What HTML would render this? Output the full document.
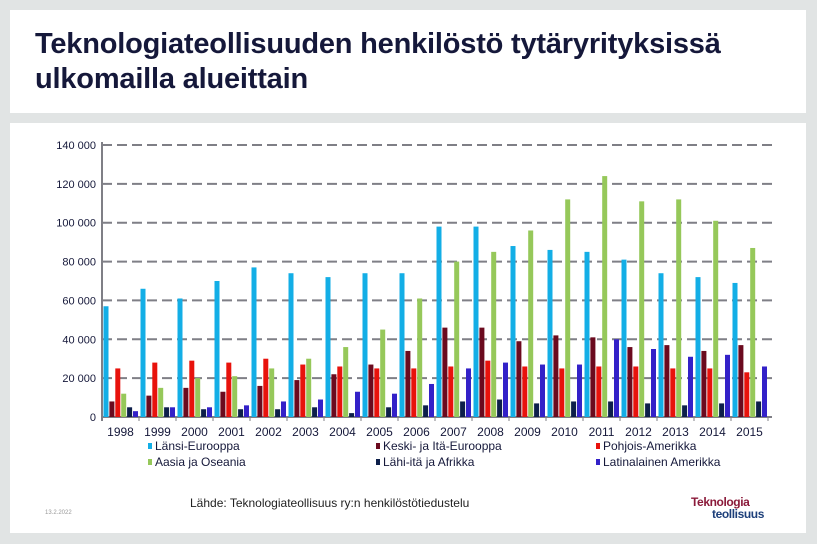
<!DOCTYPE html>
<html><head><meta charset="utf-8"><style>
body{margin:0;width:817px;height:544px;background:#e1e4e4;font-family:"Liberation Sans",sans-serif;overflow:hidden;position:relative}
.panel{position:absolute;background:#fff}
</style></head><body>
<div class="panel" style="left:10px;top:10px;width:796px;height:103px">
<div style="position:absolute;left:25px;top:17px;font-size:29px;font-weight:bold;letter-spacing:-0.2px;line-height:35px;color:#15183a">Teknologiateollisuuden henkilöstö tytäryrityksissä<br>ulkomailla alueittain</div>
</div>
<div class="panel" style="left:10px;top:123px;width:796px;height:410px"></div>
<svg id="chart" width="817" height="544" style="position:absolute;left:0;top:0"></svg>
<script>
const years=["1998","1999","2000","2001","2002","2003","2004","2005","2006","2007","2008","2009","2010","2011","2012","2013","2014","2015"];
const seriesNames=["Länsi-Eurooppa","Keski- ja Itä-Eurooppa","Pohjois-Amerikka","Aasia ja Oseania","Lähi-itä ja Afrikka","Latinalainen Amerikka"];
const lansi=[57000,66000,61000,70000,77000,74000,72000,74000,74000,98000,98000,88000,86000,85000,81000,74000,72000,69000];
const keski=[8000,11000,15000,13000,16000,19000,22000,27000,34000,46000,46000,39000,42000,41000,36000,37000,34000,37000];
const pohjois=[25000,28000,29000,28000,30000,27000,26000,25000,25000,26000,29000,26000,25000,26000,26000,25000,25000,23000];
const aasia=[12000,15000,20000,21000,25000,30000,36000,45000,61000,80000,85000,96000,112000,124000,111000,112000,101000,87000];
const lahi=[5000,5000,4000,4000,4000,5000,2000,5000,6000,8000,9000,7000,8000,8000,7000,6000,7000,8000];
const latin=[3000,5000,5000,6000,8000,9000,13000,12000,17000,25000,28000,27000,27000,40000,35000,31000,32000,26000];
const yTicks=[0,20000,40000,60000,80000,100000,120000,140000];
const colors=["#13aee6","#6b0a1e","#e8120c","#96c85a","#0d1f4a","#3321c8"];
const NS="http://www.w3.org/2000/svg";
const svg=document.getElementById('chart');
const X0=102,X1=768,Y0=417,Y1=145,YMAX=140000;
const gw=(X1-X0)/years.length;
const y=v=>Y0-(v/YMAX)*(Y0-Y1);
const xg=i=>X0+i*gw;
function mk(t,a){const e=document.createElementNS(NS,t);for(const k in a)e.setAttribute(k,a[k]);svg.appendChild(e);return e;}
yTicks.forEach((t,i)=>{
  if(i>0){const l=mk('line',{x1:X0,x2:772,y1:y(t),y2:y(t),stroke:'#7f7f86','stroke-width':2,'stroke-dasharray':'10,5'});
  
  }
  const tx=mk('text',{x:96,y:y(t)+4,'text-anchor':'end','font-size':11,fill:'#15183a'});
  tx.textContent=t===0?'0':(t/1000)+' 000';
  
  
});
const ax=mk('line',{x1:X0,x2:X0,y1:Y1-3,y2:Y0+4,stroke:'#7f7f86','stroke-width':2});


const xa=mk('line',{x1:X0,x2:772,y1:Y0,y2:Y0,stroke:'#7f7f86','stroke-width':2});


const series=[lansi,keski,pohjois,aasia,lahi,latin];
years.forEach((yr,i)=>{
  const tk=mk('line',{x1:xg(i+1),x2:xg(i+1),y1:Y0,y2:Y0+4,stroke:'#7f7f86','stroke-width':1});
  
  
  series.forEach((s,j)=>{
    const r=mk('rect',{x:xg(i)+1.5+j*5.9,y:y(s[i]),width:5,height:Y0-y(s[i]),fill:colors[j]});
    
    
  });
  const t=mk('text',{x:xg(i)+gw/2,y:436,'text-anchor':'middle','font-size':12,fill:'#15183a'});
  t.textContent=yr;
  
  
});
const lx=[148,376,596],ly=[447,463];
seriesNames.forEach((n,j)=>{
  const cx=lx[j%3],cy=ly[Math.floor(j/3)];
  const r=mk('rect',{x:cx,y:cy-4,width:4,height:6,fill:colors[j]});
  
  
  const t=mk('text',{x:cx+7,y:cy+3,'font-size':12,fill:'#15183a'});
  t.textContent=n;
  
  
});
</script>
<div style="position:absolute;left:190px;top:496px;font-size:12px;color:#222">Lähde: Teknologiateollisuus ry:n henkilöstötiedustelu</div>
<div style="position:absolute;left:45px;top:510px;font-size:6px;color:#999">13.2.2022</div>
<div style="position:absolute;left:691px;top:496px;font-size:12px;font-weight:bold;line-height:12px;letter-spacing:-0.4px"><span style="color:#8b1a3a">Teknologia</span><br><span style="color:#1d3f7a;padding-left:21px">teollisuus</span></div>
</body></html>
